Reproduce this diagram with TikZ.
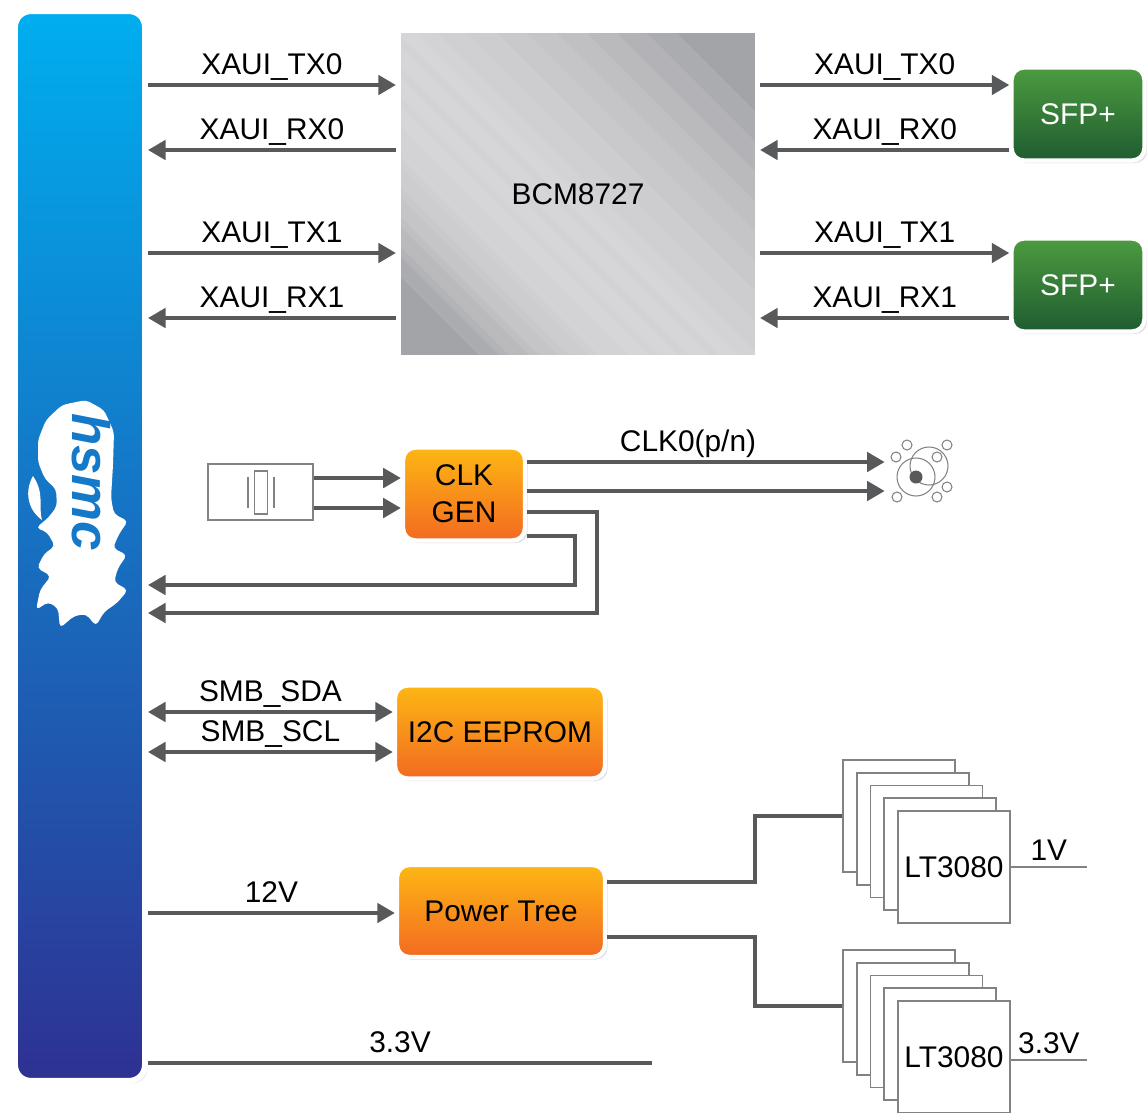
\documentclass[tikz,border=0pt]{standalone}
\usepackage{fontspec}
\setmainfont{Liberation Sans}
\usepackage{xcolor}
\usetikzlibrary{arrows.meta}
\usetikzlibrary{shadows}

\definecolor{hsmctop}{HTML}{00AEEF}
\definecolor{hsmcmid}{HTML}{0D6FC0}
\definecolor{hsmcbot}{HTML}{2E3192}
\definecolor{logoblue}{HTML}{1479C9}
\definecolor{orgtop}{HTML}{FDB714}
\definecolor{orgbot}{HTML}{F36A21}
\definecolor{sfptop}{HTML}{4C9B40}
\definecolor{sfpbot}{HTML}{1F5C30}
\definecolor{chipdark}{HTML}{A3A4A8}
\definecolor{chiplight}{HTML}{EDEDEE}
\definecolor{wire}{HTML}{58595B}
\definecolor{thin}{HTML}{808285}

\begin{document}
\begin{tikzpicture}[x=0.02cm,y=-0.02cm,
    txt/.style={font=\fontsize{17}{21}\selectfont},
    lbl/.style={txt, anchor=base, inner sep=0pt, yshift=6pt},
    vlbl/.style={txt, anchor=base, inner sep=0pt, yshift=3.5pt},
    box/.style={txt, draw=white, line width=2.5pt, rounded corners=7pt, align=center, inner sep=0pt,
      drop shadow={opacity=0.25, shadow xshift=1.5pt, shadow yshift=-1.5pt}},
    orgbox/.style={box, top color=orgtop, bottom color=orgbot, minimum height=1.86cm},
    sfpbox/.style={box, top color=sfptop, bottom color=sfpbot, text=white, minimum width=2.66cm, minimum height=1.86cm},
    chipbox/.style={box, rounded corners=0pt, line width=3pt, minimum width=7.18cm, minimum height=6.54cm, fill=chipdark},
    barbox/.style={box, line width=3.4pt, rounded corners=9pt, minimum width=2.6cm, minimum height=21.4cm,
      top color=hsmctop, middle color=hsmcmid, bottom color=hsmcbot},
    ltbox/.style={txt, draw=thin, fill=white, line width=0.9pt, minimum size=2.24cm, inner sep=0pt},
    sig/.style={draw=wire, line width=2.2pt, -{Triangle[length=10pt,width=11pt]}},
    dsig/.style={draw=wire, line width=2.2pt, {Triangle[length=10pt,width=11pt]}-{Triangle[length=10pt,width=11pt]}},
    wirel/.style={draw=wire, line width=2.2pt},
    thinl/.style={draw=thin, line width=0.9pt}]

  \useasboundingbox (0,0) rectangle (1147,1113);

  \node[barbox] (hsmc) at (80,546) {};
  \fill[white, rounded corners=2.5pt] (62,405) -- (86,400) -- (104,410) -- (114,432) -- (113,465) -- (111,498)
    -- (114,514) -- (128,521) -- (119,534) -- (113,548) -- (127,555) -- (118,568) -- (114,582) -- (128,590)
    -- (117,603) -- (104,612) -- (96,626) -- (86,614) -- (74,616) -- (60,628) -- (58,608) -- (48,602)
    -- (36,610) -- (40,590) -- (51,576) -- (37,568) -- (44,554) -- (55,546) -- (47,532) -- (36,528)
    -- (49,517) -- (57,506) -- (56,489) -- (45,479) -- (38,462) -- (38,440) -- (46,420) -- cycle;
  \fill[white] (33,476) .. controls (24,492) and (28,510) .. (42,520) .. controls (38,505) and (45,494) .. (33,476);
  \node[rotate=-90, text=logoblue, font=\fontsize{30}{30}\selectfont\bfseries\itshape, anchor=base] (logo) at (72,482) {hsmc};

  \node[chipbox] (bcm) at (578,194) {};
  \begin{scope}
    \clip ([shift={(3pt,3pt)}]bcm.south west) rectangle ([shift={(-3pt,-3pt)}]bcm.north east);
    \begin{scope}[shift={(bcm)}]
      \foreach \a in {130,115,...,10}
        \fill[chiplight, opacity=0.12] (-283+\a,-283-\a) -- (283+\a,283-\a) -- (283-\a,283+\a) -- (-283-\a,-283+\a) -- cycle;
      \foreach \a in {60,45,...,10}
        \fill[chiplight, opacity=0.12] (-343+\a,-223-\a) -- (223+\a,343-\a) -- (223-\a,343+\a) -- (-343-\a,-223+\a) -- cycle;
    \end{scope}
  \end{scope}
  \node[txt] (bcmtxt) at (bcm) {BCM8727};
  \node[sfpbox] (sfpa) at (1078,114) {SFP+};
  \node[sfpbox] (sfpb) at (1078,285) {SFP+};

  \draw[sig] (hsmc.east |- 0,85) -- (bcm.west |- 0,85) node[lbl, midway] {XAUI\_TX0};
  \draw[sig] (bcm.west |- 0,150) -- (hsmc.east |- 0,150) node[lbl, midway] {XAUI\_RX0};
  \draw[sig] (hsmc.east |- 0,253) -- (bcm.west |- 0,253) node[lbl, midway] {XAUI\_TX1};
  \draw[sig] (bcm.west |- 0,318) -- (hsmc.east |- 0,318) node[lbl, midway] {XAUI\_RX1};

  \draw[sig] (bcm.east |- 0,85) -- (sfpa.west |- 0,85) node[lbl, midway] {XAUI\_TX0};
  \draw[sig] (sfpa.west |- 0,150) -- (bcm.east |- 0,150) node[lbl, midway] {XAUI\_RX0};
  \draw[sig] (bcm.east |- 0,253) -- (sfpb.west |- 0,253) node[lbl, midway] {XAUI\_TX1};
  \draw[sig] (sfpb.west |- 0,318) -- (bcm.east |- 0,318) node[lbl, midway] {XAUI\_RX1};

  \node[draw=thin, line width=0.9pt, minimum width=2.1cm, minimum height=1.12cm] (xtal) at (260.5,492) {};
  \begin{scope}[shift={(xtal)}, color=thin, line width=0.9pt]
    \draw (-12.5,-15) -- (-12.5,16);
    \draw (13.5,-15) -- (13.5,16);
    \draw (-6,-21) rectangle (7,22);
  \end{scope}

  \node[orgbox, minimum width=2.44cm] (clk) at (464,494) {CLK\\GEN};

  \node[circle, minimum size=1.24cm, inner sep=0pt] (sma) at (916,477) {};
  \begin{scope}[shift={(sma)}, color=thin, line width=0.6pt]
    \draw (0,0) circle (19);
    \draw (13,-11) circle (19);
    \fill[wire] (0,0) circle (6.5);
    \foreach \p in {(-9,-32),(31,-32),(-20,-20),(21,-20),(-19,20),(21,20),(31,10)}
      \draw \p circle (5);
  \end{scope}

  \draw[sig] (xtal.east |- 0,478) -- (clk.west |- 0,478);
  \draw[sig] (xtal.east |- 0,508) -- (clk.west |- 0,508);
  \draw[sig] (clk.east |- 0,462) -- (sma.west |- 0,462) node[lbl, pos=0.45] {CLK0(p/n)};
  \draw[sig] (clk.east |- 0,491) -- (sma.west |- 0,491);
  \draw[sig] (clk.east |- 0,512) -| (597,613) -- (hsmc.east |- 0,613);
  \draw[sig] (clk.east |- 0,536) -| (575,585) -- (hsmc.east |- 0,585);

  \node[orgbox, minimum width=4.2cm] (eeprom) at (500,732) {I2C EEPROM};
  \draw[dsig] (hsmc.east |- 0,712) -- (eeprom.west |- 0,712) node[lbl, midway] {SMB\_SDA};
  \draw[dsig] (hsmc.east |- 0,752) -- (eeprom.west |- 0,752) node[lbl, midway] {SMB\_SCL};

  \node[orgbox, minimum width=4.16cm, minimum height=1.84cm] (pwr) at (501,911) {Power Tree};
  \draw[sig] (hsmc.east |- 0,913) -- (pwr.west |- 0,913) node[lbl, midway] {12V};

  \foreach \i in {0,...,3} {
    \node[ltbox] (lta\i) at ({899+13.75*\i},{816+12.75*\i}) {};
    \node[ltbox] (ltb\i) at ({899+13.75*\i},{1006+12.75*\i}) {};
  }
  \node[ltbox] (lta) at (954,867) {LT3080};
  \node[ltbox] (ltb) at (954,1057) {LT3080};

  \draw[wirel] (pwr.east |- 0,882) -- ++(148,0) |- (lta0.west);
  \draw[wirel] (pwr.east |- 0,937) -- ++(148,0) |- (ltb0.west);

  \coordinate (outa) at (1087,867);
  \coordinate (outb) at (1087,1060);
  \draw[thinl] (lta.east) -- (outa) node[vlbl, midway] {1V};
  \draw[thinl] (ltb.east |- outb) -- (outb) node[vlbl, midway] {3.3V};

  \coordinate (railend) at (652,1063);
  \draw[wirel] (hsmc.east |- railend) -- (railend) node[lbl, midway] {3.3V};

\end{tikzpicture}
\end{document}
